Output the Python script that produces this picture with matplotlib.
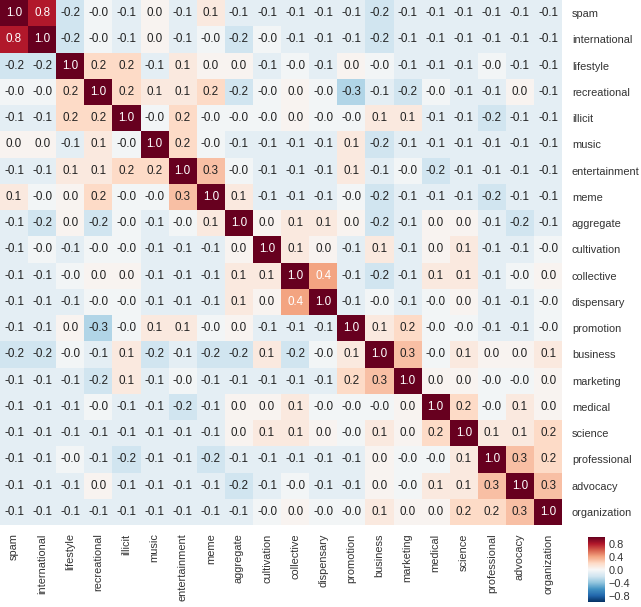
#!/usr/bin/env python3
"""Correlation heatmap of subreddit topic categories."""

import matplotlib

matplotlib.use("Agg")

import matplotlib.pyplot as plt
import numpy as np
import seaborn as sns

LABELS = [
    "spam", "international", "lifestyle", "recreational", "illicit", "music",
    "entertainment", "meme", "aggregate", "cultivation", "collective",
    "dispensary", "promotion", "business", "marketing", "medical", "science",
    "professional", "advocacy", "organization",
]

# correlations; +/-0.03 stands for the printed "0.0"/"-0.0"
CORR = [
    [1.0, 0.8, -0.2, -0.03, -0.1, 0.03, -0.1, 0.1, -0.1, -0.1, -0.1, -0.1, -0.1, -0.2, -0.1, -0.1, -0.1, -0.1, -0.1, -0.1],
    [0.8, 1.0, -0.2, -0.03, -0.1, 0.03, -0.1, -0.03, -0.2, -0.03, -0.1, -0.1, -0.1, -0.2, -0.1, -0.1, -0.1, -0.1, -0.1, -0.1],
    [-0.2, -0.2, 1.0, 0.2, 0.2, -0.1, 0.1, 0.03, 0.03, -0.1, -0.03, -0.1, 0.03, -0.03, -0.1, -0.1, -0.1, -0.03, -0.1, -0.1],
    [-0.03, -0.03, 0.2, 1.0, 0.2, 0.1, 0.1, 0.2, -0.2, -0.03, 0.03, -0.03, -0.3, -0.1, -0.2, -0.03, -0.1, -0.1, 0.03, -0.1],
    [-0.1, -0.1, 0.2, 0.2, 1.0, -0.03, 0.2, -0.03, -0.03, -0.03, 0.03, -0.03, -0.03, 0.1, 0.1, -0.1, -0.1, -0.2, -0.1, -0.1],
    [0.03, 0.03, -0.1, 0.1, -0.03, 1.0, 0.2, -0.03, -0.1, -0.1, -0.1, -0.1, 0.1, -0.2, -0.1, -0.1, -0.1, -0.1, -0.1, -0.1],
    [-0.1, -0.1, 0.1, 0.1, 0.2, 0.2, 1.0, 0.3, -0.03, -0.1, -0.1, -0.1, 0.1, -0.1, -0.03, -0.2, -0.1, -0.1, -0.1, -0.1],
    [0.1, -0.03, 0.03, 0.2, -0.03, -0.03, 0.3, 1.0, 0.1, -0.1, -0.1, -0.1, -0.03, -0.2, -0.1, -0.1, -0.1, -0.2, -0.1, -0.1],
    [-0.1, -0.2, 0.03, -0.2, -0.03, -0.1, -0.03, 0.1, 1.0, 0.03, 0.1, 0.1, 0.03, -0.2, -0.1, 0.03, 0.03, -0.1, -0.2, -0.1],
    [-0.1, -0.03, -0.1, -0.03, -0.03, -0.1, -0.1, -0.1, 0.03, 1.0, 0.1, 0.03, -0.1, 0.1, -0.1, 0.03, 0.1, -0.1, -0.1, -0.03],
    [-0.1, -0.1, -0.03, 0.03, 0.03, -0.1, -0.1, -0.1, 0.1, 0.1, 1.0, 0.4, -0.1, -0.2, -0.1, 0.1, 0.1, -0.1, -0.03, 0.03],
    [-0.1, -0.1, -0.1, -0.03, -0.03, -0.1, -0.1, -0.1, 0.1, 0.03, 0.4, 1.0, -0.1, -0.03, -0.1, -0.03, 0.03, -0.1, -0.1, -0.03],
    [-0.1, -0.1, 0.03, -0.3, -0.03, 0.1, 0.1, -0.03, 0.03, -0.1, -0.1, -0.1, 1.0, 0.1, 0.2, -0.03, -0.03, -0.1, -0.1, -0.03],
    [-0.2, -0.2, -0.03, -0.1, 0.1, -0.2, -0.1, -0.2, -0.2, 0.1, -0.2, -0.03, 0.1, 1.0, 0.3, -0.03, 0.1, 0.03, 0.03, 0.1],
    [-0.1, -0.1, -0.1, -0.2, 0.1, -0.1, -0.03, -0.1, -0.1, -0.1, -0.1, -0.1, 0.2, 0.3, 1.0, 0.03, 0.03, -0.03, -0.03, 0.03],
    [-0.1, -0.1, -0.1, -0.03, -0.1, -0.1, -0.2, -0.1, 0.03, 0.03, 0.1, -0.03, -0.03, -0.03, 0.03, 1.0, 0.2, -0.03, 0.1, 0.03],
    [-0.1, -0.1, -0.1, -0.1, -0.1, -0.1, -0.1, -0.1, 0.03, 0.1, 0.1, 0.03, -0.03, 0.1, 0.03, 0.2, 1.0, 0.1, 0.1, 0.2],
    [-0.1, -0.1, -0.03, -0.1, -0.2, -0.1, -0.1, -0.2, -0.1, -0.1, -0.1, -0.1, -0.1, 0.03, -0.03, -0.03, 0.1, 1.0, 0.3, 0.2],
    [-0.1, -0.1, -0.1, 0.03, -0.1, -0.1, -0.1, -0.1, -0.2, -0.1, -0.03, -0.1, -0.1, 0.03, -0.03, 0.1, 0.1, 0.3, 1.0, 0.3],
    [-0.1, -0.1, -0.1, -0.1, -0.1, -0.1, -0.1, -0.1, -0.1, -0.03, 0.03, -0.03, -0.03, 0.1, 0.03, 0.03, 0.2, 0.2, 0.3, 1.0],
]

CBAR_TICKS = [0.8, 0.4, 0.0, -0.4, -0.8]


def main() -> int:
    sns.set_style("white")
    plt.rcParams["font.family"] = ["Liberation Sans", "DejaVu Sans"]

    corr = np.array(CORR)

    fig = plt.figure(figsize=(6.41, 6.07), dpi=100)
    ax = fig.add_axes([0.0, 0.135, 0.877, 0.865])
    cax = fig.add_axes([0.917, 0.008, 0.0265, 0.107])

    sns.heatmap(
        corr,
        ax=ax,
        cbar_ax=cax,
        cmap="RdBu_r",
        vmin=-1.0,
        vmax=1.0,
        annot=True,
        fmt=".1f",
        annot_kws={"fontsize": 8.4},
        xticklabels=LABELS,
        yticklabels=LABELS,
        cbar_kws={"ticks": CBAR_TICKS},
    )

    # light text on the strong cells, dark elsewhere
    for text, value in zip(ax.texts, corr.ravel()):
        text.set_color("white" if abs(value) >= 0.35 else "#222222")

    ax.yaxis.tick_right()
    ax.tick_params(axis="both", length=0, labelsize=7.9, colors="#333333")
    ax.tick_params(axis="y", pad=7)
    ax.tick_params(axis="x", pad=6)
    plt.setp(ax.get_xticklabels(), rotation=90)
    plt.setp(ax.get_yticklabels(), rotation=0)

    cax.tick_params(length=0, labelsize=7.9, colors="#333333", pad=3)
    cax.yaxis.set_ticks_position("right")
    for spine in cax.spines.values():
        spine.set_visible(False)

    fig.savefig("out.png", dpi=100)
    return 0


if __name__ == "__main__":
    raise SystemExit(main())
